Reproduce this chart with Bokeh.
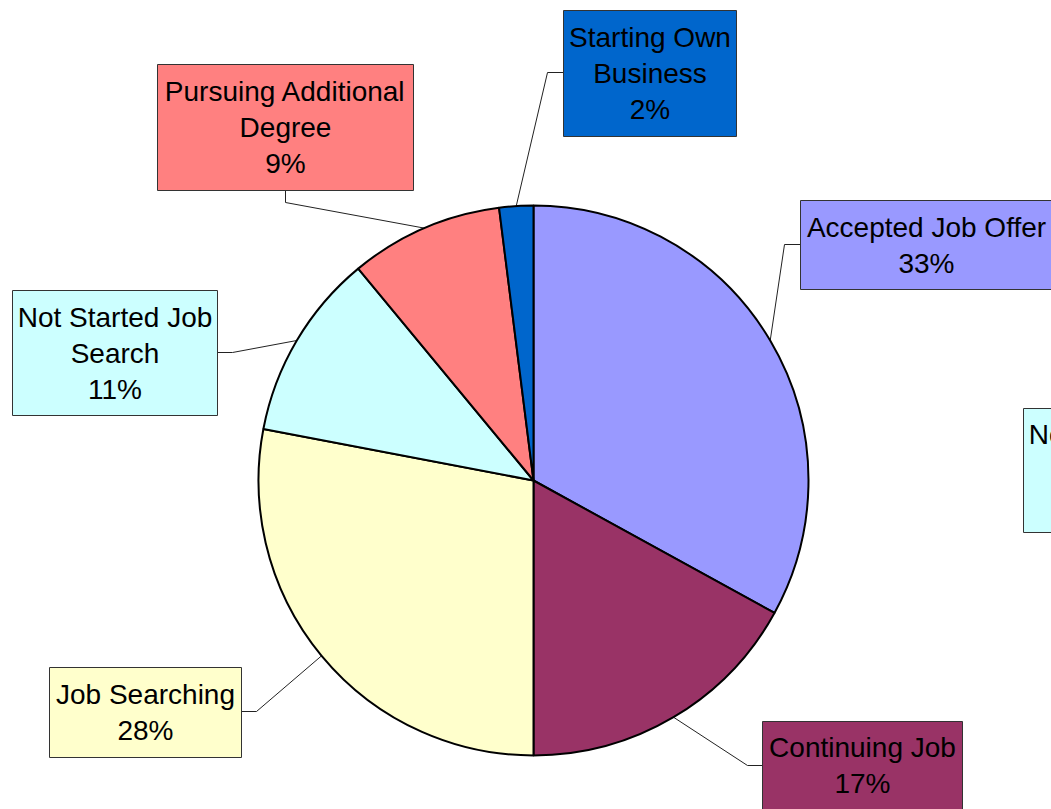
import math
from bokeh.plotting import figure
from bokeh.models import Range1d, ColumnDataSource
from bokeh.embed import file_html
from bokeh.resources import INLINE
from bokeh.core.properties import value

# ---- data ----
categories = ["Accepted Job Offer", "Continuing Job", "Job Searching",
              "Not Started Job Search", "Pursuing Additional Degree", "Starting Own Business"]
shares = [33, 17, 28, 11, 9, 2]
colors = ["#9999FF", "#993366", "#FFFFCC", "#CCFFFF", "#FF8080", "#0066CC"]
label_lines = [["Accepted Job Offer"], ["Continuing Job"], ["Job Searching"],
               ["Not Started Job", "Search"], ["Pursuing Additional", "Degree"],
               ["Starting Own", "Business"]]

# ---- layout (reference pixel space) ----
CX, CY, R = 533.0, 480.0, 275.0
W, H = 1051, 809
# box: left, top, right, bottom ; attach point ; elbow point
boxes = [(800, 200, 1052, 289), (762, 721, 962, 812), (49, 667, 241, 757),
         (12, 290, 217, 415), (157, 64, 413, 190), (563, 10, 736, 136)]
attach = [(800, 244), (762, 765), (241, 711), (217, 352), (285, 190), (563, 72)]
elbow = [(784, 244), (747, 765), (256, 711), (232, 352), (285, 202), (547, 72)]
extra_box = (1023, 408, 1228, 532)   # partially visible duplicate label
extra_idx = 3
LINE_PITCH = 36


def X(px):
    return (px - CX) / R


def Y(py):
    return (CY - py) / R


p = figure(width=W, height=H, output_backend="svg", toolbar_location=None,
           x_range=Range1d(X(0), X(W)), y_range=Range1d(Y(H), Y(0)),
           x_axis_location=None, y_axis_location=None, min_border=0)
p.grid.visible = False
p.outline_line_color = None
p.background_fill_color = "white"

total = float(sum(shares))
starts, ends, mids = [], [], []
cum = 0.0
for v in shares:
    a0 = math.pi / 2 - 2 * math.pi * cum / total
    cum += v
    a1 = math.pi / 2 - 2 * math.pi * cum / total
    starts.append(a0)
    ends.append(a1)
    mids.append((a0 + a1) / 2)

# leader lines
xs, ys = [], []
for i in range(len(shares)):
    ax, ay = attach[i]
    ex, ey = elbow[i]
    xs.append([X(ax), X(ex), math.cos(mids[i])])
    ys.append([Y(ay), Y(ey), math.sin(mids[i])])
p.multi_line(xs=xs, ys=ys, line_color="#222222", line_width=1)

# pie
p.wedge(x=0, y=0, radius=1, start_angle=starts, end_angle=ends, direction="clock",
        fill_color=colors, line_color="black", line_width=2)

# boxes
all_boxes = boxes + [extra_box]
box_colors = colors + [colors[extra_idx]]
p.quad(left=[X(b[0]) for b in all_boxes], right=[X(b[2]) for b in all_boxes],
       top=[Y(b[1]) for b in all_boxes], bottom=[Y(b[3]) for b in all_boxes],
       fill_color=box_colors, line_color="#333333", line_width=1)

# texts
tx, ty, tt = [], [], []
idxs = list(range(len(shares))) + [extra_idx]
for k, i in enumerate(idxs):
    b = all_boxes[k]
    lines = label_lines[i] + [f"{shares[i]}%"]
    cxp = (b[0] + b[2]) / 2
    cyp = (b[1] + min(b[3], 809)) / 2
    n = len(lines)
    for j, s in enumerate(lines):
        tx.append(X(cxp))
        ty.append(Y(cyp + (j - (n - 1) / 2) * LINE_PITCH))
        tt.append(s)
src = ColumnDataSource(dict(x=tx, y=ty, text=tt))
p.text(x="x", y="y", text="text", source=src, text_align="center", text_baseline="middle",
       text_font=value("Liberation Sans"), text_font_size="28px", text_color="black")

open("out.html", "w").write(file_html(p, INLINE))
